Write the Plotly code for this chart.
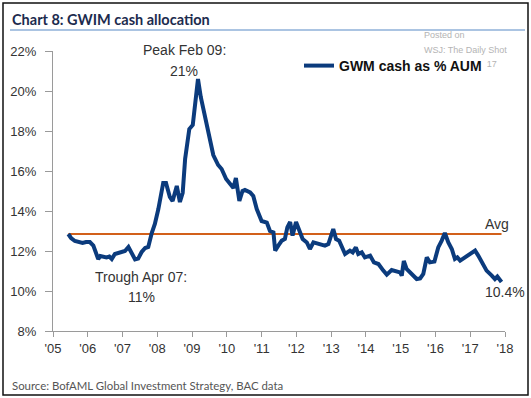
import plotly.graph_objects as go

# ---- data ----
years = [2005.44, 2005.52, 2005.63, 2005.75, 2005.85, 2005.95, 2006.06, 2006.16, 2006.24, 2006.30,
         2006.36, 2006.44, 2006.54, 2006.62, 2006.69, 2006.78, 2006.88, 2006.98, 2007.07, 2007.17,
         2007.26, 2007.36, 2007.45, 2007.55, 2007.65, 2007.74, 2007.84, 2007.93, 2008.03, 2008.10,
         2008.17, 2008.25, 2008.36, 2008.44, 2008.56, 2008.65, 2008.73, 2008.80, 2008.92, 2009.02,
         2009.08, 2009.17, 2009.25, 2009.37, 2009.47, 2009.61, 2009.75, 2009.85, 2009.98, 2010.09,
         2010.19, 2010.26, 2010.36, 2010.45, 2010.52, 2010.67, 2010.76, 2010.86, 2011.00, 2011.15,
         2011.24, 2011.34, 2011.39, 2011.48, 2011.58, 2011.67, 2011.74, 2011.82, 2011.89, 2011.99,
         2012.08, 2012.18, 2012.30, 2012.39, 2012.49, 2012.63, 2012.82, 2012.92, 2013.06, 2013.14,
         2013.23, 2013.40, 2013.54, 2013.62, 2013.71, 2013.78, 2013.88, 2013.97, 2014.12, 2014.23,
         2014.36, 2014.50, 2014.60, 2014.74, 2014.86, 2014.98, 2015.03, 2015.09, 2015.17, 2015.32,
         2015.46, 2015.56, 2015.65, 2015.75, 2015.84, 2015.97, 2016.08, 2016.18, 2016.27, 2016.37,
         2016.47, 2016.56, 2016.63, 2016.71, 2016.85, 2016.99, 2017.14, 2017.23, 2017.38, 2017.47,
         2017.62, 2017.71, 2017.78, 2017.86, 2017.90]
cash_pct = [12.85, 12.65, 12.50, 12.42, 12.40, 12.45, 12.45, 12.27, 11.95, 11.60,
            11.75, 11.72, 11.68, 11.72, 11.60, 11.85, 11.90, 11.93, 12.00, 12.20,
            11.85, 11.58, 11.62, 11.95, 12.15, 12.20, 12.90, 13.35, 14.10, 14.70,
            15.40, 15.40, 14.70, 14.50, 15.25, 14.45, 14.90, 16.60, 18.10, 18.30,
            19.40, 20.60, 19.70, 18.80, 17.90, 16.80, 16.30, 16.10, 15.60, 15.35,
            15.15, 15.65, 14.50, 15.00, 15.05, 14.93, 14.75, 14.10, 13.50, 13.42,
            13.00, 12.93, 12.02, 12.27, 12.52, 12.60, 13.18, 13.45, 12.77, 13.45,
            13.00, 12.60, 12.43, 12.10, 12.43, 12.35, 12.27, 12.35, 13.10, 12.60,
            12.52, 11.85, 12.02, 11.93, 12.18, 11.85, 11.93, 11.68, 11.77, 11.43,
            11.35, 11.02, 10.82, 11.05, 10.97, 10.93, 10.77, 11.50, 11.10, 10.85,
            10.60, 10.63, 10.85, 11.68, 11.43, 11.47, 12.18, 12.52, 12.90, 12.43,
            12.10, 11.60, 11.68, 11.52, 11.68, 11.85, 12.02, 11.77, 11.35, 11.02,
            10.77, 10.60, 10.72, 10.57, 10.45]
avg_pct = 12.85

x_tickvals = list(range(2005, 2019))
x_ticktext = ["'05", "'06", "'07", "'08", "'09", "'10", "'11", "'12", "'13", "'14",
              "'15", "'16", "'17", "'18"]
y_tickvals = [8, 10, 12, 14, 16, 18, 20, 22]
y_ticktext = ["8%", "10%", "12%", "14%", "16%", "18%", "20%", "22%"]

watermark_lines = ["Posted on", "WSJ: The Daily Shot", "09/29/2017"]

W, H = 531, 398
NAVY = "#0b3b7d"
ORANGE = "#d2601a"
TXT = "#333333"
TICKFONT = dict(family="Liberation Sans, Arial, sans-serif", size=13, color=TXT)
WMFONT = dict(family="Liberation Sans, Arial, sans-serif", size=9, color="#b4b4b4")

fig = go.Figure()
# last watermark line drawn as trace text so the legend box sits on top of it
fig.add_trace(go.Scatter(
    x=[2017.76], y=[21.33], mode="text", text=watermark_lines[2:],
    textposition="middle left", cliponaxis=False, showlegend=False, hoverinfo="skip",
    textfont=WMFONT))
fig.add_trace(go.Scatter(
    x=[years[0], years[-1]], y=[avg_pct, avg_pct], mode="lines",
    line=dict(color=ORANGE, width=2), showlegend=False, hoverinfo="skip"))
fig.add_trace(go.Scatter(
    x=years, y=cash_pct, mode="lines", name="<b>GWM cash as % AUM</b>",
    line=dict(color=NAVY, width=4), showlegend=True))

def ann(x, y, text, xref="x", yref="y", **kw):
    d = dict(x=x, y=y, xref=xref, yref=yref, text=text, showarrow=False)
    d.update(kw)
    fig.add_annotation(**d)

af = dict(family="Liberation Sans, Arial, sans-serif", size=14, color=TXT)
ann(2008.77, 21.0, "Peak Feb 09:", font=af, yshift=21)
ann(2008.78, 21.0, "21%", font=af)
ann(2007.53, 10.7, "Trough Apr 07:", font=af)
ann(2007.54, 9.7, "11%", font=af)
ann(2017.77, 13.35, "Avg", font=af)
ann(2017.99, 9.95, "10.4%", font=af)

# watermark, title and source (paper = whole figure, margins are zero)
ann(422 / W, 1 - 35 / H, watermark_lines[0], xref="paper", yref="paper", xanchor="left", yanchor="middle", font=WMFONT)
ann(422 / W, 1 - 50 / H, watermark_lines[1], xref="paper", yref="paper", xanchor="left", yanchor="middle", font=WMFONT)
ann(10 / W, 1 - 19 / H, "<b>Chart 8: GWIM cash allocation</b>", xref="paper", yref="paper",
    xanchor="left", yanchor="middle",
    font=dict(family="Lato, sans-serif", size=14.5, color="#1c2b4e"))
ann(10 / W, 1 - 385 / H, "Source: BofAML Global Investment Strategy, BAC data", xref="paper", yref="paper",
    xanchor="left", yanchor="middle",
    font=dict(family="Lato, sans-serif", size=11.4, color="#555555"))

fig.add_shape(type="line", xref="paper", yref="paper", x0=10 / W, x1=525 / W, y0=1 - 30 / H, y1=1 - 30 / H,
              line=dict(color="#8fb0d8", width=1.5), layer="below")
fig.add_shape(type="rect", xref="paper", yref="paper", x0=3 / W, x1=528 / W, y0=1 - 395 / H, y1=1 - 3 / H,
              line=dict(color="#111111", width=1.5))

fig.update_layout(
    width=W, height=H, autosize=False,
    margin=dict(l=0, r=0, t=0, b=0),
    paper_bgcolor="white", plot_bgcolor="white",
    showlegend=True,
    legend=dict(x=299 / W, y=1 - 66 / H, xanchor="left", yanchor="middle",
                bgcolor="white", borderwidth=0,
                font=dict(family="Liberation Sans, Arial, sans-serif", size=14, color="#111111"),
                itemwidth=30, tracegroupgap=0),
    xaxis=dict(domain=[53 / W, 505 / W], range=[2005, 2018], tickvals=x_tickvals, ticktext=x_ticktext,
               showgrid=False, zeroline=False, showline=True, linecolor="#9a9a9a", linewidth=1,
               ticks="outside", ticklen=5, tickcolor="#9a9a9a", tickfont=TICKFONT, automargin=False,
               fixedrange=True),
    yaxis=dict(domain=[(H - 331) / H, (H - 51) / H], range=[8, 22], tickvals=y_tickvals, ticktext=y_ticktext,
               showgrid=False, zeroline=False, showline=True, linecolor="#9a9a9a", linewidth=1,
               ticks="outside", ticklen=7, tickcolor="#9a9a9a", tickfont=TICKFONT, automargin=False,
               ticklabelstandoff=6, fixedrange=True),
)

fig.write_html("out.html", config={"displayModeBar": False},
               post_script="document.body.style.margin='0';document.body.style.padding='0';"
                           "document.documentElement.style.overflow='hidden';")
